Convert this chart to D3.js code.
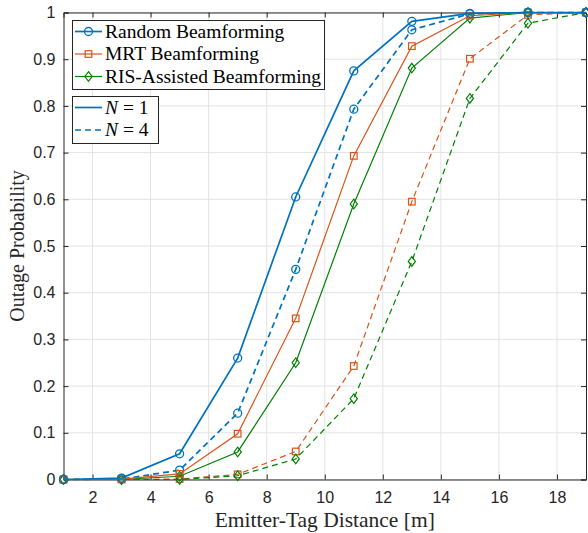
<!DOCTYPE html>
<html>
<head>
<meta charset="utf-8">
<script src="https://cdn.jsdelivr.net/npm/d3@7"></script>
<style>
  body { margin: 0; background: #fff; }
  svg { display: block; }
</style>
</head>
<body>
<div id="chart"></div>
<script>
var distances = [1, 3, 5, 7, 9, 11, 13, 15, 17, 19];

var randomN1 = [0, 0.003, 0.055, 0.26, 0.605, 0.875, 0.981, 0.998, 1, 1];
var randomN4 = [0, 0.001, 0.02, 0.142, 0.45, 0.793, 0.963, 0.997, 1, 1];
var mrtN1 = [0, 0.001, 0.012, 0.098, 0.345, 0.693, 0.928, 0.993, 1, 1];
var mrtN4 = [0, 0, 0.001, 0.011, 0.06, 0.243, 0.595, 0.901, 0.995, 1];
var risN1 = [0, 0, 0.007, 0.059, 0.25, 0.59, 0.881, 0.988, 1, 1];
var risN4 = [0, 0, 0, 0.008, 0.044, 0.173, 0.467, 0.816, 0.977, 1];

var xTicks = [2, 4, 6, 8, 10, 12, 14, 16, 18];
var yTicks = [0, 0.1, 0.2, 0.3, 0.4, 0.5, 0.6, 0.7, 0.8, 0.9, 1];

var schemes = ['Random Beamforming', 'MRT Beamforming', 'RIS-Assisted Beamforming'];
var colors = ['#0072BD', '#D95319', '#008000'];
var markers = ['circle', 'square', 'diamond'];

var series = [
  { s: 0, n: 4, values: randomN4 },
  { s: 1, n: 4, values: mrtN4 },
  { s: 2, n: 4, values: risN4 },
  { s: 2, n: 1, values: risN1 },
  { s: 1, n: 1, values: mrtN1 },
  { s: 0, n: 1, values: randomN1 }
];

var width = 588, height = 533;
var margin = { left: 63.5, right: 2, top: 12.5, bottom: 53.5 };

var svg = d3.select('#chart').append('svg')
  .attr('width', width)
  .attr('height', height);

var x = d3.scaleLinear().domain([1, 19]).range([margin.left, width - margin.right]);
var y = d3.scaleLinear().domain([0, 1]).range([height - margin.bottom, margin.top]);

var axisColor = '#262626';
var serif = '"Liberation Serif", "Times New Roman", serif';
var sans = '"Liberation Sans", Arial, sans-serif';

// grid
svg.append('g').selectAll('line.gx').data(xTicks).enter().append('line')
  .attr('x1', d => x(d)).attr('x2', d => x(d))
  .attr('y1', y(0)).attr('y2', y(1))
  .attr('stroke', '#e3e3e3').attr('stroke-width', 1);
svg.append('g').selectAll('line.gy').data(yTicks).enter().append('line')
  .attr('x1', x(1)).attr('x2', x(19))
  .attr('y1', d => y(d)).attr('y2', d => y(d))
  .attr('stroke', '#e3e3e3').attr('stroke-width', 1);

// axes with inward ticks
var xAxis = d3.axisBottom(x).tickValues(xTicks).tickSize(-5).tickPadding(12);
var yAxis = d3.axisLeft(y).tickValues(yTicks).tickSize(-5).tickPadding(8)
  .tickFormat(d => d === 0 ? '0' : d === 1 ? '1' : d3.format('.1f')(d));

var gx = svg.append('g').attr('transform', 'translate(0,' + y(0) + ')').call(xAxis);
var gy = svg.append('g').attr('transform', 'translate(' + x(1) + ',0)').call(yAxis);
var gxTop = svg.append('g').attr('transform', 'translate(0,' + y(1) + ')')
  .call(d3.axisTop(x).tickValues(xTicks).tickSize(-5).tickFormat(''));
var gyRight = svg.append('g').attr('transform', 'translate(' + x(19) + ',0)')
  .call(d3.axisRight(y).tickValues(yTicks).tickSize(-5).tickFormat(''));

[gx, gy, gxTop, gyRight].forEach(function(g) {
  g.select('.domain').attr('stroke', axisColor).attr('stroke-width', 1);
  g.selectAll('.tick line').attr('stroke', axisColor);
  g.selectAll('.tick text').attr('fill', axisColor)
    .style('font-family', sans).style('font-size', '16px');
});

// lines
var line = d3.line()
  .x((d, i) => x(distances[i]))
  .y(d => y(d));

function drawMarker(g, type, cx, cy, color) {
  if (type === 'circle') {
    g.append('circle').attr('cx', cx).attr('cy', cy).attr('r', 4)
      .attr('fill', 'none').attr('stroke', color).attr('stroke-width', 1.3);
  } else if (type === 'square') {
    g.append('rect').attr('x', cx - 3.3).attr('y', cy - 3.3)
      .attr('width', 6.6).attr('height', 6.6)
      .attr('fill', 'none').attr('stroke', color).attr('stroke-width', 1.2);
  } else {
    g.append('path')
      .attr('d', 'M' + cx + ',' + (cy - 4.8) + 'L' + (cx + 3.6) + ',' + cy +
        'L' + cx + ',' + (cy + 4.8) + 'L' + (cx - 3.6) + ',' + cy + 'Z')
      .attr('fill', 'none').attr('stroke', color).attr('stroke-width', 1.2);
  }
}

var plot = svg.append('g');
series.forEach(function(sr) {
  var color = colors[sr.s];
  var lw = sr.s === 0 ? 1.7 : 1.2;
  plot.append('path')
    .datum(sr.values)
    .attr('d', line)
    .attr('fill', 'none')
    .attr('stroke', color)
    .attr('stroke-width', lw)
    .attr('stroke-dasharray', sr.n === 4 ? '6,4' : null);
  sr.values.forEach(function(v, i) {
    drawMarker(plot, markers[sr.s], x(distances[i]), y(v), color);
  });
});

// axis labels
svg.append('text')
  .attr('x', (x(1) + x(19)) / 2).attr('y', 527)
  .attr('text-anchor', 'middle')
  .style('font-family', serif).style('font-size', '21.5px')
  .attr('fill', axisColor)
  .text('Emitter-Tag Distance [m]');

svg.append('text')
  .attr('transform', 'translate(24,' + (y(0.5)) + ') rotate(-90)')
  .attr('text-anchor', 'middle')
  .style('font-family', serif).style('font-size', '20px')
  .attr('fill', axisColor)
  .text('Outage Probability');

// legend 1: schemes
var leg1 = svg.append('g');
leg1.append('rect').attr('x', 72.5).attr('y', 20.5).attr('width', 252).attr('height', 69)
  .attr('fill', '#fff').attr('stroke', axisColor).attr('stroke-width', 1);
schemes.forEach(function(name, i) {
  var ly = 31.5 + i * 22.5;
  leg1.append('line').attr('x1', 75).attr('x2', 102).attr('y1', ly).attr('y2', ly)
    .attr('stroke', colors[i]).attr('stroke-width', i === 0 ? 1.7 : 1.2);
  drawMarker(leg1, markers[i], 88.5, ly, colors[i]);
  leg1.append('text').attr('x', 105).attr('y', ly + 6)
    .style('font-family', serif).style('font-size', '19.5px')
    .attr('fill', '#000')
    .text(name);
});

// legend 2: N
var leg2 = svg.append('g');
leg2.append('rect').attr('x', 72.5).attr('y', 96.5).attr('width', 86).attr('height', 47)
  .attr('fill', '#fff').attr('stroke', axisColor).attr('stroke-width', 1);
[1, 4].forEach(function(n, i) {
  var ly = 107.5 + i * 22.5;
  leg2.append('line').attr('x1', 75).attr('x2', 102).attr('y1', ly).attr('y2', ly)
    .attr('stroke', colors[0]).attr('stroke-width', 1.7)
    .attr('stroke-dasharray', n === 4 ? '6,4' : null);
  var t = leg2.append('text').attr('x', 105).attr('y', ly + 6)
    .style('font-family', serif).style('font-size', '19.5px')
    .attr('fill', '#000');
  t.append('tspan').style('font-style', 'italic').text('N');
  t.append('tspan').text(' = ' + n);
});
</script>
</body>
</html>
